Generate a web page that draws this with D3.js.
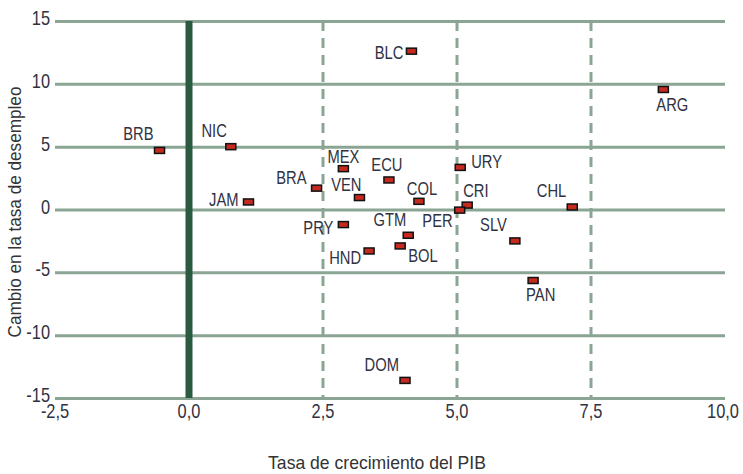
<!DOCTYPE html>
<html>
<head>
<meta charset="utf-8">
<script src="https://cdn.jsdelivr.net/npm/d3@7"></script>
<style>
  html, body { margin: 0; padding: 0; background: #fff; }
  svg text { font-family: "Liberation Sans", Arial, sans-serif; }
</style>
</head>
<body>
<svg id="chart" width="743" height="474"></svg>
<script>
// ---- Data ----
const countries = ["BLC","ARG","BRB","NIC","JAM","MEX","ECU","BRA","VEN","COL","URY","CRI","PER","CHL","PRY","GTM","BOL","HND","SLV","PAN","DOM"];
const growth    = [4.15, 8.85, -0.55, 0.78, 1.11, 2.88, 3.73, 2.38, 3.18, 4.29, 5.06, 5.19, 5.05, 7.15, 2.88, 4.09, 3.94, 3.36, 6.08, 6.42, 4.03];
const unempChg  = [12.6, 9.55, 4.7, 5.0, 0.6, 3.25, 2.35, 1.7, 0.95, 0.65, 3.35, 0.35, -0.05, 0.2, -1.2, -2.05, -2.9, -3.3, -2.5, -5.65, -13.6];
const xTicks = [-2.5, 0, 2.5, 5, 7.5, 10];
const yTicks = [15, 10, 5, 0, -5, -10, -15];
const xDashed = [2.5, 5, 7.5];
const xTitle = "Tasa de crecimiento del PIB";
const yTitle = "Cambio en la tasa de desempleo";

// ---- Label placement (layout only) ----
const labelPlace = {
  BLC:{a:"end",dx:-8,dy:8}, ARG:{a:"start",dx:-7,dy:22}, BRB:{a:"end",dx:-6,dy:-10},
  NIC:{a:"end",dx:-4,dy:-10}, JAM:{a:"end",dx:-10,dy:4}, MEX:{a:"middle",dx:0,dy:-6},
  ECU:{a:"middle",dx:-2,dy:-9}, BRA:{a:"end",dx:-10,dy:-4}, VEN:{a:"end",dx:2,dy:-7},
  COL:{a:"middle",dx:3,dy:-6}, URY:{a:"start",dx:11,dy:1}, CRI:{a:"start",dx:-4,dy:-8},
  PER:{a:"end",dx:-7,dy:17}, CHL:{a:"end",dx:-6,dy:-10}, PRY:{a:"end",dx:-10,dy:9},
  GTM:{a:"end",dx:-2,dy:-9}, BOL:{a:"start",dx:8,dy:16}, HND:{a:"end",dx:-8,dy:13},
  SLV:{a:"end",dx:-8,dy:-10}, PAN:{a:"start",dx:-7,dy:20}, DOM:{a:"end",dx:-6,dy:-9}
};

const svg = d3.select("#chart");
const x = d3.scaleLinear().domain([-2.5, 10]).range([55, 725]);
const y = d3.scaleLinear().domain([-15, 15]).range([398, 21]);

const gridColor = "#8ba594";
const textColor = "#2f3242";
const narrow = 0.82;
const nt = (px, py) => `translate(${px},${py}) scale(${narrow},1)`;

// Horizontal gridlines
const yAxis = svg.append("g")
  .attr("transform", `translate(${x(-2.5)},0)`)
  .call(d3.axisLeft(y).tickValues(yTicks).tickSize(-(x(10) - x(-2.5))).tickFormat(""));
yAxis.select(".domain").remove();
yAxis.selectAll(".tick line").attr("stroke", gridColor).attr("stroke-width", 3);

// y tick labels
svg.append("g").selectAll("text").data(yTicks).join("text")
  .attr("transform", d => nt(x(-2.5) - 5, y(d) + 4))
  .attr("text-anchor", "end").attr("font-size", 20).attr("fill", textColor)
  .text(d => String(d));

// Dashed vertical gridlines
svg.append("g").selectAll("line").data(xDashed).join("line")
  .attr("x1", d => x(d)).attr("x2", d => x(d))
  .attr("y1", y(15)).attr("y2", y(-15))
  .attr("stroke", gridColor).attr("stroke-width", 3)
  .attr("stroke-dasharray", "10,7");

// Zero line
svg.append("line")
  .attr("x1", x(0)).attr("x2", x(0)).attr("y1", y(15)).attr("y2", y(-15))
  .attr("stroke", "#2a5a40").attr("stroke-width", 7);

// X tick labels
const fmtX = d => d3.format(".1f")(d).replace(".", ",").replace("\u2212", "-");
svg.append("g").selectAll("text").data(xTicks).join("text")
  .attr("transform", d => nt(x(d) - (d === 10 ? 2 : 0), y(-15) + 20))
  .attr("text-anchor", "middle").attr("font-size", 20).attr("fill", textColor)
  .text(fmtX);

// Axis titles (narrow, fitted to reference widths)
const xt = svg.append("text").attr("text-anchor", "middle")
  .attr("font-size", 18).attr("fill", "#333").text(xTitle);
const xs = 218 / xt.node().getComputedTextLength();
xt.attr("transform", `translate(377,469) scale(${xs},1)`);
const yt = svg.append("text").attr("text-anchor", "middle")
  .attr("font-size", 18).attr("fill", "#333").text(yTitle);
const ys = 251 / yt.node().getComputedTextLength();
yt.attr("transform", `translate(21,212) rotate(-90) scale(${ys},1)`);

// Points
const pts = countries.map((c, i) => ({c, gx: growth[i], uy: unempChg[i]}));
svg.append("g").selectAll("rect").data(pts).join("rect")
  .attr("x", d => x(d.gx) - 5).attr("y", d => y(d.uy) - 3)
  .attr("width", 10).attr("height", 6)
  .attr("fill", "#c42a1f").attr("stroke", "#111").attr("stroke-width", 1.5);

// Labels
svg.append("g").selectAll("text").data(pts).join("text")
  .attr("transform", d => nt(x(d.gx) + labelPlace[d.c].dx, y(d.uy) + labelPlace[d.c].dy))
  .attr("text-anchor", d => labelPlace[d.c].a)
  .attr("font-size", 18).attr("fill", textColor)
  .text(d => d.c);
</script>
</body>
</html>
